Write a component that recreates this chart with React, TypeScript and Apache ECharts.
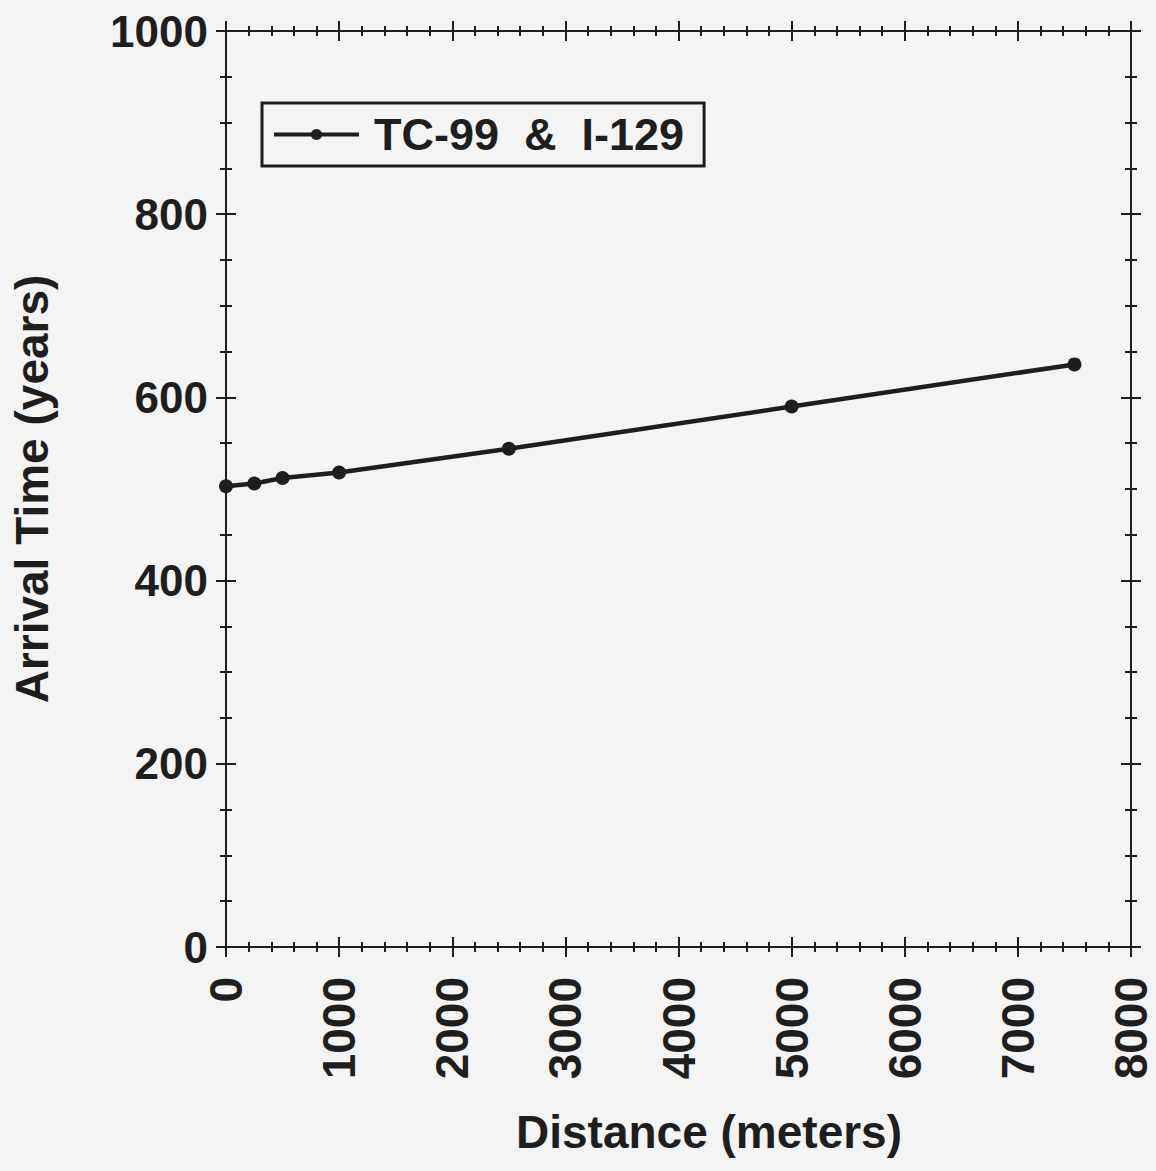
import React, { useEffect, useRef } from "react";
import * as echarts from "echarts";

const distances = [0, 250, 500, 1000, 2500, 5000, 7500];
const arrivalTimes = [503, 506, 512, 518, 544, 590, 636];
const seriesName = "TC-99  &  I-129";
const xTitle = "Distance (meters)";
const yTitle = "Arrival Time (years)";

const FONT = "'Liberation Sans', Arial, Helvetica, sans-serif";
const INK = "#1e1e1e";
const BG = "#f4f4f4";

export default function App() {
  const ref = useRef<HTMLDivElement>(null);
  useEffect(() => {
    document.body.style.margin = "0";
    document.body.style.background = BG;
    const chart = echarts.init(ref.current!, null, { renderer: "svg" });
    const axLine = { show: true, onZero: false, lineStyle: { color: INK, width: 2 } };
    const fmt = (v: number) => String(v);
    const mkX = (pos: "top" | "bottom", inside: boolean, labels: boolean) => ({
      type: "value",
      min: 0,
      max: 8000,
      interval: 1000,
      position: pos,
      axisLine: axLine,
      axisTick: { show: true, inside, length: 10, lineStyle: { color: INK, width: 2 } },
      minorTick: { show: true, splitNumber: 5, length: 5, lineStyle: { color: INK, width: 2 } },
      splitLine: { show: false },
      minorSplitLine: { show: false },
      axisLabel: labels
        ? { show: true, rotate: 90, fontSize: 46, fontWeight: "bold", fontFamily: FONT, color: INK, margin: 30, formatter: fmt }
        : { show: false },
    });
    const mkY = (pos: "left" | "right", inside: boolean, labels: boolean) => ({
      type: "value",
      min: 0,
      max: 1000,
      interval: 200,
      position: pos,
      axisLine: axLine,
      axisTick: { show: true, inside, length: 10, lineStyle: { color: INK, width: 2 } },
      minorTick: { show: true, splitNumber: 4, length: 6, lineStyle: { color: INK, width: 2 } },
      splitLine: { show: false },
      minorSplitLine: { show: false },
      axisLabel: labels
        ? { show: true, fontSize: 44, fontWeight: "bold", fontFamily: FONT, color: INK, margin: 18, formatter: fmt }
        : { show: false },
    });
    chart.setOption({
      animation: false,
      backgroundColor: BG,
      grid: { left: 226, right: 25, top: 31, bottom: 224, containLabel: false },
      xAxis: [
        mkX("bottom", false, true),
        mkX("bottom", true, false),
        mkX("top", false, false),
        mkX("top", true, false),
      ],
      yAxis: [
        mkY("left", false, true),
        mkY("left", true, false),
        mkY("right", false, false),
        mkY("right", true, false),
      ],
      legend: {
        show: true,
        left: 262,
        top: 103,
        padding: [9, 20, 9, 10],
        borderColor: INK,
        borderWidth: 3,
        itemWidth: 85,
        itemHeight: 14,
        lineStyle: { width: 4, color: INK },
        textStyle: {
          fontSize: 45,
          fontWeight: "bold",
          fontFamily: FONT,
          color: INK,
          padding: [0, 0, 0, 10],
        },
        data: [seriesName],
      },
      graphic: [
        {
          type: "text",
          x: 32,
          y: 489,
          rotation: Math.PI / 2,
          style: {
            text: yTitle,
            font: `bold 46px ${FONT}`,
            fill: INK,
            textAlign: "center",
            textVerticalAlign: "middle",
          },
        },
        {
          type: "text",
          x: 709,
          y: 1132,
          style: {
            text: xTitle,
            font: `bold 46px ${FONT}`,
            fill: INK,
            textAlign: "center",
            textVerticalAlign: "middle",
          },
        },
      ],
      series: [
        {
          name: seriesName,
          type: "line",
          xAxisIndex: 0,
          yAxisIndex: 0,
          data: distances.map((d, i) => [d, arrivalTimes[i]]),
          symbol: "circle",
          symbolSize: 14,
          itemStyle: { color: INK },
          lineStyle: { color: INK, width: 4.5 },
        },
      ],
    });
    return () => chart.dispose();
  }, []);
  return (
    <div
      ref={ref}
      style={{ position: "absolute", left: 0, top: 0, width: 1156, height: 1171 }}
    />
  );
}
